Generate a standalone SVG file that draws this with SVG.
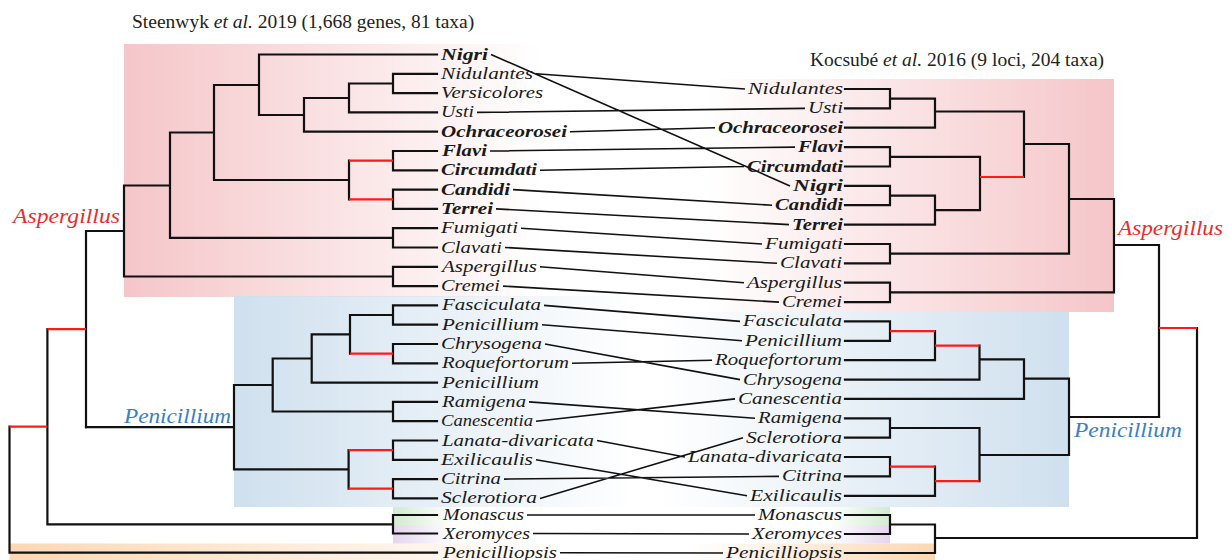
<svg xmlns="http://www.w3.org/2000/svg" width="1229" height="560" viewBox="0 0 1229 560">
<style>
.t{font-family:"Liberation Serif","Times New Roman",serif;font-style:italic;font-size:16.5px;fill:#1a1a1a}
.b{font-weight:bold}
.ttl{font-family:"Liberation Serif","Times New Roman",serif;font-size:19.5px;fill:#222}
.cl{font-family:"Liberation Serif","Times New Roman",serif;font-style:italic;font-size:20px}
.tr{fill:none;stroke:#111;stroke-width:2.2;stroke-linecap:square}
.rd{fill:none;stroke:#ff1a1a;stroke-width:2.2}
.cn{fill:none;stroke:#111;stroke-width:1.6}
</style>
<defs>
<linearGradient id="gPL" x1="0" x2="1" y1="0" y2="0"><stop offset="0" stop-color="#f5c6c9"/><stop offset="1" stop-color="#f5c6c9" stop-opacity="0"/></linearGradient>
<linearGradient id="gPR" x1="0" x2="1" y1="0" y2="0"><stop offset="0" stop-color="#f5c6c9" stop-opacity="0"/><stop offset="1" stop-color="#f5c6c9"/></linearGradient>
<linearGradient id="gBL" x1="0" x2="1" y1="0" y2="0"><stop offset="0" stop-color="#cfe0ee"/><stop offset="1" stop-color="#cfe0ee" stop-opacity="0"/></linearGradient>
<linearGradient id="gBR" x1="0" x2="1" y1="0" y2="0"><stop offset="0" stop-color="#cfe0ee" stop-opacity="0"/><stop offset="1" stop-color="#cfe0ee"/></linearGradient>
<linearGradient id="gGL" x1="0" x2="1" y1="0" y2="0"><stop offset="0" stop-color="#d3ead0"/><stop offset="1" stop-color="#d3ead0" stop-opacity="0"/></linearGradient>
<linearGradient id="gGR" x1="0" x2="1" y1="0" y2="0"><stop offset="0" stop-color="#d3ead0" stop-opacity="0"/><stop offset="1" stop-color="#d3ead0"/></linearGradient>
<linearGradient id="gVL" x1="0" x2="1" y1="0" y2="0"><stop offset="0" stop-color="#e5d5ee"/><stop offset="1" stop-color="#e5d5ee" stop-opacity="0"/></linearGradient>
<linearGradient id="gVR" x1="0" x2="1" y1="0" y2="0"><stop offset="0" stop-color="#e5d5ee" stop-opacity="0"/><stop offset="1" stop-color="#e5d5ee"/></linearGradient>
<linearGradient id="gOL" x1="0" x2="1" y1="0" y2="0"><stop offset="0" stop-color="#fbd8b5"/><stop offset="1" stop-color="#fbd8b5" stop-opacity="0"/></linearGradient>
<linearGradient id="gOR" x1="0" x2="1" y1="0" y2="0"><stop offset="0" stop-color="#fbd8b5" stop-opacity="0"/><stop offset="1" stop-color="#fbd8b5"/></linearGradient>
</defs>
<rect width="1229" height="560" fill="#fff"/>
<g id="boxes">
<rect x="124" y="44" width="420" height="253" fill="url(#gPL)"/>
<rect x="700" y="79" width="414" height="233" fill="url(#gPR)"/>
<rect x="234" y="296" width="400" height="211" fill="url(#gBL)"/>
<rect x="660" y="312" width="409" height="195" fill="url(#gBR)"/>
<rect x="393" y="507" width="60" height="18" fill="url(#gGL)"/>
<rect x="830" y="507" width="60" height="18" fill="url(#gGR)"/>
<rect x="393" y="525" width="60" height="18.5" fill="url(#gVL)"/>
<rect x="830" y="525" width="60" height="18.5" fill="url(#gVR)"/>
<rect x="9.5" y="543.5" width="560" height="17" fill="url(#gOL)"/>
<rect x="690" y="543.5" width="245" height="17" fill="url(#gOR)"/>
</g>
<g id="titles">
<text class="ttl" x="132" y="28">Steenwyk <tspan font-style="italic">et al.</tspan> 2019 (1,668 genes, 81 taxa)</text>
<text class="ttl" x="810" y="66">Kocsubé <tspan font-style="italic">et al.</tspan> 2016 (9 loci, 204 taxa)</text>
</g>
<g id="connectors">
<g id="left-tree">
<path class="tr" d="M393 73.8V93.1M393 73.8H437M349 83.5H393M349 83.5V112.4M393 93.1H437M349 112.4H437M304 98H349M304 98V131.7M304 131.7H437M259 115H304M259 54.5V115M259 54.5H437M214 85H259M214 85V180M393 151V170.3M393 151H437M393 170.3H437M393 189.6V208.9M393 189.6H437M393 208.9H437M349 160.7V199.3M214 180H349M170 132.5H214M170 132.5V237.9M393 228.2V247.5M393 228.2H437M393 247.5H437M170 237.9H393M124 185.5H170M124 185.5V276.5M393 266.8V286.1M393 266.8H437M393 286.1H437M124 276.5H393M86 231H124M86 231V427.2"/>
<path class="rd" d="M349 160.7H393M349 199.3H393"/>
<path class="tr" d="M393 305.4V324.7M393 305.4H437M393 324.7H437M350 315H393M393 344V363.3M393 344H437M393 363.3H437M350 315V353.7M311.7 334.3H350M311.7 334.3V382.6M311.7 382.6H437M272.7 358.5H311.7M272.7 358.5V411.5M393 401.9V421.2M393 401.9H437M393 421.2H437M272.7 411.5H393M234 385H272.7M234 385V469.4M393 440.5V459.8M393 440.5H437M393 459.8H437M393 479.1V498.4M393 479.1H437M393 498.4H437M348.6 450.1V488.7M234 469.4H348.6M86 427.2H234M393 515V533.5M393 515H437M393 533.5H437M47.4 524.3H393M47.4 329.1V524.3M9.5 426.7V552.7M9.5 552.7H437"/>
<path class="rd" d="M350 353.7H393M348.6 450.1H393M348.6 488.7H393M47.4 329.1H86M9.5 426.7H47.4"/>
</g>
<g id="right-tree">
<path class="tr" d="M845 89H890M845 108.4H890M890 89V108.4M890 98.7H935M845 127.7H935M935 98.7V127.7M935 111.5H1024M845 147.1H890M845 166.5H890M890 147.1V166.5M890 156.8H980M845 185.9H890M845 205.2H890M890 185.9V205.2M890 195.6H935M845 224.6H935M935 195.6V224.6M935 210.1H980M980 156.8V210.1M1024 111.5V177M1024 144H1069M845 244H890M845 263.3H890M890 244V263.3M890 253.7H1069M1069 144V253.7M1069 199H1114M845 282.7H890M845 302.1H890M890 282.7V302.1M890 292.4H1114M1114 199V292.4M1114 245H1159M1159 245V417"/>
<path class="rd" d="M980 177H1024"/>
<path class="tr" d="M845 321.4H890M845 340.8H890M890 321.4V340.8M845 360.2H935M935 331.1V360.2M845 379.6H979.5M979.5 345.7V379.6M979.5 359.3H1024M845 398.9H1024M1024 359.3V398.9M1024 378.6H1069M845 418.3H890M845 437.7H890M890 418.3V437.7M890 428H979.5M845 457H890M845 476.4H890M890 457V476.4M845 495.8H935M935 466.7V495.8M979.5 428V481.2M979.5 455H1069M1069 378.6V455M1069 417H1159M845 515H890M845 534H890M890 515V534M890 524.5H935M845 553H935M935 524.5V553M935 538H1197M1197 328V538"/>
<path class="rd" d="M890 331.1H935M935 345.7H979.5M890 466.7H935M935 481.2H979.5M1159 328H1197"/>
</g>
<g id="links">
<path class="cn" d="M491 54.5L790 185.9M536 73.8L745 89M477 112.4L805 108.4M570 131.7L715 127.7M490 151L795 147.1M540 170.3L744 166.5M513 189.6L772 205.2M496 208.9L789 224.6M521 228.2L762 244M505 247.5L777 263.3M540 266.8L744 282.7M503 286.1L779 302.1M544 305.4L740 321.4M542 324.7L742 340.8M545 344L740 379.6M572 363.3L712 360.2M529 401.9L755 418.3M536 421.2L735 398.9M597 440.5L685 457M536 459.8L747 495.8M504 479.1L779 476.4M540 498.4L743 437.7M527 515L755 515M533 533.5L749 534M560 552.7L723 553"/>
</g>
</g>
<g id="clades">
<text class="cl" x="13" y="222.7" fill="#ee2b2b" textLength="107" lengthAdjust="spacingAndGlyphs">Aspergillus</text>
<text class="cl" x="1118" y="235" fill="#ee2b2b" textLength="105" lengthAdjust="spacingAndGlyphs">Aspergillus</text>
<text class="cl" x="124" y="422.7" fill="#3b80c4" textLength="107" lengthAdjust="spacingAndGlyphs">Penicillium</text>
<text class="cl" x="1074" y="436.7" fill="#3b80c4" textLength="108" lengthAdjust="spacingAndGlyphs">Penicillium</text>
</g>
<g id="left-taxa">
<g id="L-Nigri"><text class="t b" x="441" y="59.5" textLength="47" lengthAdjust="spacingAndGlyphs">Nigri</text></g>
<g id="L-Nidulantes"><text class="t" x="441" y="78.8" textLength="92" lengthAdjust="spacingAndGlyphs">Nidulantes</text></g>
<g id="L-Versicolores"><text class="t" x="441" y="98.1" textLength="102" lengthAdjust="spacingAndGlyphs">Versicolores</text></g>
<g id="L-Usti"><text class="t" x="441" y="117.4" textLength="33" lengthAdjust="spacingAndGlyphs">Usti</text></g>
<g id="L-Ochraceorosei"><text class="t b" x="441" y="136.7" textLength="126" lengthAdjust="spacingAndGlyphs">Ochraceorosei</text></g>
<g id="L-Flavi"><text class="t b" x="442" y="156" textLength="45" lengthAdjust="spacingAndGlyphs">Flavi</text></g>
<g id="L-Circumdati"><text class="t b" x="441" y="175.3" textLength="96" lengthAdjust="spacingAndGlyphs">Circumdati</text></g>
<g id="L-Candidi"><text class="t b" x="441" y="194.6" textLength="69" lengthAdjust="spacingAndGlyphs">Candidi</text></g>
<g id="L-Terrei"><text class="t b" x="441" y="213.9" textLength="52" lengthAdjust="spacingAndGlyphs">Terrei</text></g>
<g id="L-Fumigati"><text class="t" x="441" y="233.2" textLength="77" lengthAdjust="spacingAndGlyphs">Fumigati</text></g>
<g id="L-Clavati"><text class="t" x="441" y="252.5" textLength="61" lengthAdjust="spacingAndGlyphs">Clavati</text></g>
<g id="L-Aspergillus"><text class="t" x="442" y="271.8" textLength="95" lengthAdjust="spacingAndGlyphs">Aspergillus</text></g>
<g id="L-Cremei"><text class="t" x="441" y="291.1" textLength="59" lengthAdjust="spacingAndGlyphs">Cremei</text></g>
<g id="L-Fasciculata"><text class="t" x="442" y="310.4" textLength="99" lengthAdjust="spacingAndGlyphs">Fasciculata</text></g>
<g id="L-Penicillium"><text class="t" x="442" y="329.7" textLength="97" lengthAdjust="spacingAndGlyphs">Penicillium</text></g>
<g id="L-Chrysogena"><text class="t" x="441" y="349" textLength="101" lengthAdjust="spacingAndGlyphs">Chrysogena</text></g>
<g id="L-Roquefortorum"><text class="t" x="442" y="368.3" textLength="127" lengthAdjust="spacingAndGlyphs">Roquefortorum</text></g>
<g id="L-Penicillium2"><text class="t" x="442" y="387.6" textLength="97" lengthAdjust="spacingAndGlyphs">Penicillium</text></g>
<g id="L-Ramigena"><text class="t" x="442" y="406.9" textLength="84" lengthAdjust="spacingAndGlyphs">Ramigena</text></g>
<g id="L-Canescentia"><text class="t" x="441" y="426.2" textLength="92" lengthAdjust="spacingAndGlyphs">Canescentia</text></g>
<g id="L-Lanata-divaricata"><text class="t" x="442" y="445.5" textLength="152" lengthAdjust="spacingAndGlyphs">Lanata-divaricata</text></g>
<g id="L-Exilicaulis"><text class="t" x="441" y="464.8" textLength="92" lengthAdjust="spacingAndGlyphs">Exilicaulis</text></g>
<g id="L-Citrina"><text class="t" x="441" y="484.1" textLength="60" lengthAdjust="spacingAndGlyphs">Citrina</text></g>
<g id="L-Sclerotiora"><text class="t" x="441" y="503.4" textLength="96" lengthAdjust="spacingAndGlyphs">Sclerotiora</text></g>
<g id="L-Monascus"><text class="t" x="443" y="520" textLength="81" lengthAdjust="spacingAndGlyphs">Monascus</text></g>
<g id="L-Xeromyces"><text class="t" x="443" y="538.5" textLength="87" lengthAdjust="spacingAndGlyphs">Xeromyces</text></g>
<g id="L-Penicilliopsis"><text class="t" x="443" y="557.7" textLength="114" lengthAdjust="spacingAndGlyphs">Penicilliopsis</text></g>
</g>
<g id="right-taxa">
<g id="R-Nidulantes"><text class="t" x="748" y="94" textLength="95" lengthAdjust="spacingAndGlyphs">Nidulantes</text></g>
<g id="R-Usti"><text class="t" x="808" y="113.4" textLength="35" lengthAdjust="spacingAndGlyphs">Usti</text></g>
<g id="R-Ochraceorosei"><text class="t b" x="718" y="132.7" textLength="125" lengthAdjust="spacingAndGlyphs">Ochraceorosei</text></g>
<g id="R-Flavi"><text class="t b" x="798" y="152.1" textLength="45" lengthAdjust="spacingAndGlyphs">Flavi</text></g>
<g id="R-Circumdati"><text class="t b" x="747" y="171.5" textLength="96" lengthAdjust="spacingAndGlyphs">Circumdati</text></g>
<g id="R-Nigri"><text class="t b" x="793" y="190.9" textLength="50" lengthAdjust="spacingAndGlyphs">Nigri</text></g>
<g id="R-Candidi"><text class="t b" x="775" y="210.2" textLength="68" lengthAdjust="spacingAndGlyphs">Candidi</text></g>
<g id="R-Terrei"><text class="t b" x="792" y="229.6" textLength="51" lengthAdjust="spacingAndGlyphs">Terrei</text></g>
<g id="R-Fumigati"><text class="t" x="765" y="249" textLength="78" lengthAdjust="spacingAndGlyphs">Fumigati</text></g>
<g id="R-Clavati"><text class="t" x="780" y="268.3" textLength="62" lengthAdjust="spacingAndGlyphs">Clavati</text></g>
<g id="R-Aspergillus"><text class="t" x="747" y="287.7" textLength="95" lengthAdjust="spacingAndGlyphs">Aspergillus</text></g>
<g id="R-Cremei"><text class="t" x="782" y="307.1" textLength="60" lengthAdjust="spacingAndGlyphs">Cremei</text></g>
<g id="R-Fasciculata"><text class="t" x="743" y="326.4" textLength="99" lengthAdjust="spacingAndGlyphs">Fasciculata</text></g>
<g id="R-Penicillium"><text class="t" x="745" y="345.8" textLength="97" lengthAdjust="spacingAndGlyphs">Penicillium</text></g>
<g id="R-Roquefortorum"><text class="t" x="715" y="365.2" textLength="127" lengthAdjust="spacingAndGlyphs">Roquefortorum</text></g>
<g id="R-Chrysogena"><text class="t" x="743" y="384.6" textLength="99" lengthAdjust="spacingAndGlyphs">Chrysogena</text></g>
<g id="R-Canescentia"><text class="t" x="738" y="403.9" textLength="104" lengthAdjust="spacingAndGlyphs">Canescentia</text></g>
<g id="R-Ramigena"><text class="t" x="758" y="423.3" textLength="84" lengthAdjust="spacingAndGlyphs">Ramigena</text></g>
<g id="R-Sclerotiora"><text class="t" x="746" y="442.7" textLength="96" lengthAdjust="spacingAndGlyphs">Sclerotiora</text></g>
<g id="R-Lanata-divaricata"><text class="t" x="688" y="462" textLength="154" lengthAdjust="spacingAndGlyphs">Lanata-divaricata</text></g>
<g id="R-Citrina"><text class="t" x="782" y="481.4" textLength="60" lengthAdjust="spacingAndGlyphs">Citrina</text></g>
<g id="R-Exilicaulis"><text class="t" x="750" y="500.8" textLength="92" lengthAdjust="spacingAndGlyphs">Exilicaulis</text></g>
<g id="R-Monascus"><text class="t" x="758" y="520" textLength="84" lengthAdjust="spacingAndGlyphs">Monascus</text></g>
<g id="R-Xeromyces"><text class="t" x="752" y="539" textLength="90" lengthAdjust="spacingAndGlyphs">Xeromyces</text></g>
<g id="R-Penicilliopsis"><text class="t" x="726" y="558" textLength="116" lengthAdjust="spacingAndGlyphs">Penicilliopsis</text></g>
</g>
</svg>
